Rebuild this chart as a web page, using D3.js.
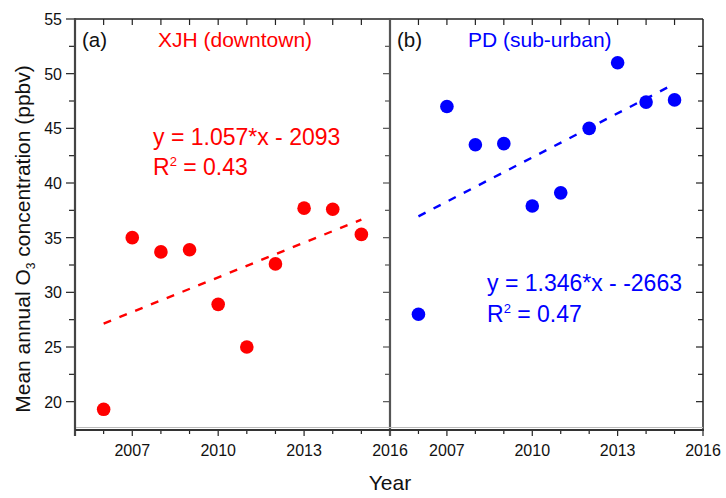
<!DOCTYPE html>
<html><head><meta charset="utf-8">
<script src="https://cdn.jsdelivr.net/npm/d3@7"></script>
<style>body{margin:0;background:#fff}svg{display:block;font-family:"Liberation Sans",Arial,sans-serif}</style>
</head><body><svg id="c" width="726" height="498"></svg>
<script>
const years = [2006,2007,2008,2009,2010,2011,2012,2013,2014,2015];
const xjh = [19.3,35.0,33.7,33.9,28.9,25.0,32.6,37.7,37.6,35.3];
const pd  = [28.0,47.0,43.5,43.6,37.9,39.1,45.0,51.0,47.4,47.6];
const xTickLabels = [2007,2010,2013,2016];
const yTickLabels = [20,25,30,35,40,45,50,55];
const panelLabels = ["(a)","(b)"];
const siteTitles = ["XJH (downtown)","PD (sub-urban)"];
const equations = ["y = 1.057*x - 2093","y = 1.346*x - -2663"];
const r2Labels = ["0.43","0.47"];
const colors = ["#ff0000","#0000ff"];

const svg = d3.select("#c");
const y = d3.scaleLinear().domain([17.5,55]).range([429,19]);
const xs = [d3.scaleLinear().domain([2005,2016]).range([75,390]),
            d3.scaleLinear().domain([2005,2016]).range([390,703])];
const series = [xjh, pd];

function fit(xv, yv){
  const mx=d3.mean(xv), my=d3.mean(yv);
  const sxy=d3.sum(xv,(v,i)=>(v-mx)*(yv[i]-my)), sxx=d3.sum(xv,v=>(v-mx)*(v-mx));
  const b=sxy/sxx; return x=>my+b*(x-mx);
}

const allYears = d3.range(2005,2017);
const yAll = d3.range(17.5,55.01,2.5);

const eqPos = [{x:153,y:145,ry:175},{x:487,y:291,ry:322}];
xs.forEach((x,p)=>{
  const g = svg.append("g");
  const x0=x.range()[0], x1=x.range()[1];
  g.selectAll(".tt").data(years).join("line")
    .attr("x1",d=>x(d)).attr("x2",d=>x(d)).attr("y1",19).attr("y2",25)
    .attr("stroke","#222").attr("stroke-width",1.2);
  g.selectAll(".bt").data(allYears).join("line")
    .attr("x1",d=>x(d)).attr("x2",d=>x(d)).attr("y1",429).attr("y2",d=>xTickLabels.includes(d)||d===2005?436:434)
    .attr("stroke","#222").attr("stroke-width",1.2);
  g.selectAll(".rt").data(yAll.filter(v=>v>17.5&&v<55)).join("line")
    .attr("x1",x1).attr("x2",d=>x1-(d%5===0?7:5)).attr("y1",d=>y(d)).attr("y2",d=>y(d))
    .attr("stroke",p===0?"#555":"#222").attr("stroke-width",1.2);
  g.selectAll(".xl").data(xTickLabels).join("text")
    .attr("x",d=>x(d)).attr("y",456).attr("text-anchor","middle")
    .attr("font-size",16).attr("fill","#111").text(d=>d);
  const f = fit(years, series[p]);
  g.append("line").attr("x1",x(2006)).attr("x2",x(2015)).attr("y1",y(f(2006))).attr("y2",y(f(2015)))
    .attr("stroke",colors[p]).attr("stroke-width",2.4).attr("stroke-dasharray","8,9");
  g.selectAll(".pt").data(years).join("circle")
    .attr("cx",d=>x(d)).attr("cy",(d,i)=>y(series[p][i])).attr("r",6.8).attr("fill",colors[p]);
  g.append("text").attr("x",x0+7).attr("y",47).attr("font-size",20.5).attr("fill","#111").text(panelLabels[p]);
  g.append("text").attr("x",p===0?158:468).attr("y",47).attr("font-size",21).attr("fill",colors[p]).text(siteTitles[p]);
  g.append("text").attr("x",eqPos[p].x).attr("y",eqPos[p].y).attr("font-size",23).attr("fill",colors[p]).text(equations[p]);
  const rt = g.append("text").attr("x",eqPos[p].x).attr("y",eqPos[p].ry).attr("font-size",23).attr("fill",colors[p]);
  rt.append("tspan").text("R");
  rt.append("tspan").attr("font-size",13).attr("dy",-9).text("2");
  rt.append("tspan").attr("dy",9).text(" = "+r2Labels[p]);
});

svg.selectAll(".lt").data(yAll.filter(v=>v>17.5)).join("line")
  .attr("x1",75).attr("x2",d=>75-(d%5===0?9:6)).attr("y1",d=>y(d)).attr("y2",d=>y(d))
  .attr("stroke","#222").attr("stroke-width",1.2);
svg.selectAll(".yl").data(yTickLabels).join("text")
  .attr("x",62).attr("y",d=>y(d)+6).attr("text-anchor","end")
  .attr("font-size",16).attr("fill","#111").text(d=>d);

svg.append("line").attr("x1",75).attr("x2",703).attr("y1",19).attr("y2",19).attr("stroke","#222").attr("stroke-width",1.5);
svg.append("line").attr("x1",703).attr("x2",703).attr("y1",19).attr("y2",430).attr("stroke","#222").attr("stroke-width",1.5);
svg.append("line").attr("x1",75).attr("x2",75).attr("y1",18).attr("y2",436).attr("stroke","#444").attr("stroke-width",2.2);
svg.append("line").attr("x1",390).attr("x2",390).attr("y1",18).attr("y2",436).attr("stroke","#555").attr("stroke-width",2.2);
svg.append("line").attr("x1",75).attr("x2",704).attr("y1",430).attr("y2",430).attr("stroke","#333").attr("stroke-width",2);
svg.append("line").attr("x1",76).attr("x2",703).attr("y1",427.5).attr("y2",427.5).attr("stroke","#bbb").attr("stroke-width",1);

const yt = svg.append("text").attr("transform","translate(30,239) rotate(-90)").attr("text-anchor","middle")
  .attr("font-size",21).attr("fill","#111");
yt.append("tspan").text("Mean annual O");
yt.append("tspan").attr("font-size",12).attr("dy",5).text("3");
yt.append("tspan").attr("dy",-5).text(" concentration (ppbv)");
svg.append("text").attr("x",390).attr("y",490).attr("text-anchor","middle").attr("font-size",21).attr("fill","#111").text("Year");
</script></body></html>
